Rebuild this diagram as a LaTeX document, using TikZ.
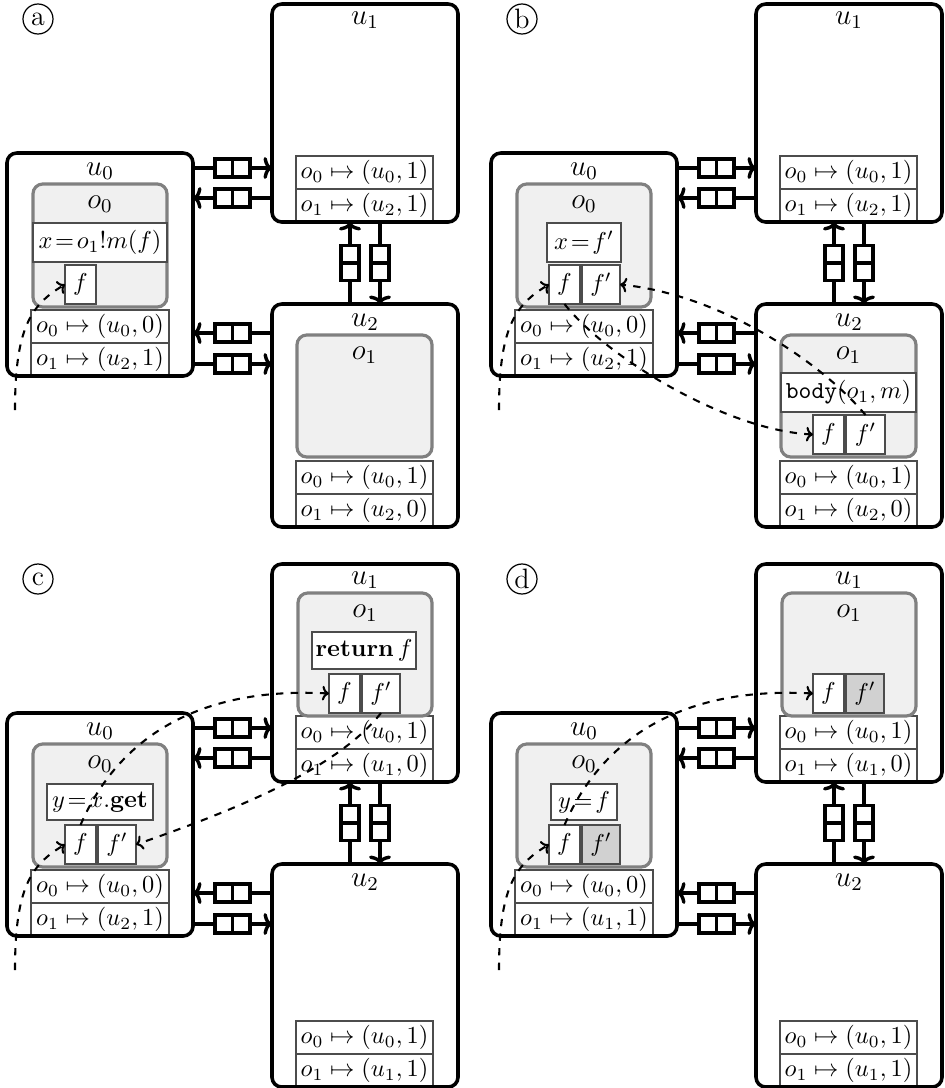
\documentclass[tikz,border=0pt]{standalone}
\usetikzlibrary{arrows.meta}
\def\px{0.41pt}
\newcommand\bx[7]{\node[#1,anchor=north west,minimum width={((#5)-(#3))*\px},minimum height={((#6)-(#4))*\px}] (#2) at (#3,#4) {#7};}
\newcommand\lbl{\fontsize{11.5}{13}\selectfont}
\newcommand\tbl[6]{%
  \bx{cell}{#1r1}{#2}{#3}{#4}{#3+33}{#5}
  \bx{cell}{#1r2}{#2}{#3+33}{#4}{#3+66}{#6}}
\tikzset{
  x=\px, y=-\px,
  every node/.style={inner sep=0pt, outer sep=0pt},
  unitfill/.style={fill=white, rounded corners=4pt},
  unitline/.style={draw, line width=1.45pt, rounded corners=4pt},
  obj/.style={draw=black!50, fill=black!6, line width=1.3pt, rounded corners=4pt},
  cell/.style={draw=black!70, fill=white, line width=0.5pt},
  gcell/.style={cell, fill=black!18},
  ttl/.style={font=\lbl},
  chan/.style={line width=1.4pt, -{To[length=3.5pt,width=9pt]}},
  qh/.style={-, draw, fill=white, line width=1.3pt, minimum width={35*\px}, minimum height={18*\px},
    path picture={\draw[-, line width=1.3pt] (path picture bounding box.north) -- (path picture bounding box.south);}},
  qv/.style={-, draw, fill=white, line width=1.3pt, minimum width={18*\px}, minimum height={35*\px},
    path picture={\draw[-, line width=1.3pt] (path picture bounding box.west) -- (path picture bounding box.east);}},
  ptr/.style={dashed, line width=0.85pt, -{To[length=2.8pt,width=6pt]}},
  tag/.style={draw, circle, line width=0.5pt, minimum size={30*\px}, font=\lbl},
}
\newcommand\units[1]{%
  \bx{unitfill}{#1u0}{7}{153}{193}{376}{}
  \bx{unitfill}{#1u1}{272}{4}{458}{222}{}
  \bx{unitfill}{#1u2}{272}{304}{458}{527}{}
  \node[ttl] (#1u0t) at (100,171) {$u_0$};
  \node[ttl] (#1u1t) at (365,20) {$u_1$};
  \node[ttl] (#1u2t) at (365,322) {$u_2$};
  \draw[chan] (#1u0.east |- 0,168) -- (#1u1.west |- 0,168) node[qh,midway]{};
  \draw[chan] (#1u1.west |- 0,198) -- (#1u0.east |- 0,198) node[qh,midway]{};
  \draw[chan] (#1u2.west |- 0,333) -- (#1u0.east |- 0,333) node[qh,midway]{};
  \draw[chan] (#1u0.east |- 0,364) -- (#1u2.west |- 0,364) node[qh,midway]{};
  \draw[chan] (#1u2.north -| 350,0) -- (#1u1.south -| 350,0) node[qv,midway]{};
  \draw[chan] (#1u1.south -| 380,0) -- (#1u2.north -| 380,0) node[qv,midway]{};
}
\newcommand\borders[1]{%
  \draw[unitline] (#1u0.north west) rectangle (#1u0.south east);
  \draw[unitline] (#1u1.north west) rectangle (#1u1.south east);
  \draw[unitline] (#1u2.north west) rectangle (#1u2.south east);
}
\begin{document}
\begin{tikzpicture}
\useasboundingbox (0,0) rectangle (944,1088);

% ---------------- panel a
\begin{scope}
\node[tag] (atag) at (38,19) {a};
\units{a}
\tbl{at0}{31}{310}{169}{$o_0\mapsto(u_0,0)$}{$o_1\mapsto(u_2,1)$}
\tbl{at1}{296}{156}{433}{$o_0\mapsto(u_0,1)$}{$o_1\mapsto(u_2,1)$}
\tbl{at2}{296}{461}{433}{$o_0\mapsto(u_0,1)$}{$o_1\mapsto(u_2,0)$}
\bx{obj}{ao0}{33}{184}{167}{307}{}
\node[ttl] (ao0t) at (100,204) {$o_0$};
\bx{cell}{am}{33}{223}{167}{262}{$x\!=\!o_1!m(f)$}
\bx{cell}{af}{65}{265}{96}{304}{$f$}
\bx{obj}{ao1}{297}{335}{432}{457}{}
\node[ttl] (ao1t) at (364.5,355) {$o_1$};
\borders{a}
\coordinate (as) at (15,410);
\draw[ptr] (as) .. controls (15,330) and (30,305) .. (af.west);
\end{scope}

% ---------------- panel b
\begin{scope}[shift={(484,0)}]
\node[tag] (btag) at (38,19) {b};
\units{b}
\tbl{bt0}{31}{310}{169}{$o_0\mapsto(u_0,0)$}{$o_1\mapsto(u_2,1)$}
\tbl{bt1}{296}{156}{433}{$o_0\mapsto(u_0,1)$}{$o_1\mapsto(u_2,1)$}
\tbl{bt2}{296}{461}{433}{$o_0\mapsto(u_0,1)$}{$o_1\mapsto(u_2,0)$}
\bx{obj}{bo0}{33}{184}{167}{307}{}
\node[ttl] (bo0t) at (100,204) {$o_0$};
\bx{cell}{bm}{63}{223}{137}{262}{$x\!=\!f'$}
\bx{cell}{bf}{65}{265}{96}{304}{$f$}
\bx{cell}{bfp}{98}{265}{136}{304}{$f'$}
\bx{obj}{bo1}{297}{335}{432}{457}{}
\node[ttl] (bo1t) at (364.5,355) {$o_1$};
\bx{cell}{bb}{297}{373}{432}{412}{$\texttt{body}(o_1,m)$}
\bx{cell}{bf1}{329}{415}{360}{454}{$f$}
\bx{cell}{bfp1}{362}{415}{401}{454}{$f'$}
\borders{b}
\coordinate (bs) at (15,410);
\draw[ptr] (bs) .. controls (15,330) and (30,305) .. (bf.west);
\draw[ptr] (bf.south) .. controls (120,355) and (240,430) .. (bf1.west);
\draw[ptr] (bfp1.north) .. controls (340,365) and (240,295) .. (bfp.east);
\end{scope}

% ---------------- panel c
\begin{scope}[shift={(0,560)}]
\node[tag] (ctag) at (38,19) {c};
\units{c}
\tbl{ct0}{31}{310}{169}{$o_0\mapsto(u_0,0)$}{$o_1\mapsto(u_2,1)$}
\tbl{ct1}{296}{156}{433}{$o_0\mapsto(u_0,1)$}{$o_1\mapsto(u_1,0)$}
\tbl{ct2}{296}{461}{433}{$o_0\mapsto(u_0,1)$}{$o_1\mapsto(u_1,1)$}
\bx{obj}{co0}{33}{184}{167}{307}{}
\node[ttl] (co0t) at (100,204) {$o_0$};
\bx{cell}{cm}{47}{224}{153}{260}{$y\!=\!x.\mathbf{get}$}
\bx{cell}{cf}{65}{265}{96}{304}{$f$}
\bx{cell}{cfp}{98}{265}{136}{304}{$f'$}
\bx{obj}{co1}{298}{33}{432}{156}{}
\node[ttl] (co1t) at (365,53) {$o_1$};
\bx{cell}{cr}{312}{72}{416}{109}{$\mathbf{return}\,f$}
\bx{cell}{cf1}{329}{114}{360}{153}{$f$}
\bx{cell}{cfp1}{362}{114}{400}{153}{$f'$}
\borders{c}
\coordinate (cs) at (15,410);
\draw[ptr] (cs) .. controls (15,330) and (30,305) .. (cf.west);
\draw[ptr] (cf.north) .. controls (115,185) and (190,126) .. (cf1.west);
\draw[ptr] (cfp1.south) .. controls (340,205) and (250,245) .. (cfp.east);
\end{scope}

% ---------------- panel d
\begin{scope}[shift={(484,560)}]
\node[tag] (dtag) at (38,19) {d};
\units{d}
\tbl{dt0}{31}{310}{169}{$o_0\mapsto(u_0,0)$}{$o_1\mapsto(u_1,1)$}
\tbl{dt1}{296}{156}{433}{$o_0\mapsto(u_0,1)$}{$o_1\mapsto(u_1,0)$}
\tbl{dt2}{296}{461}{433}{$o_0\mapsto(u_0,1)$}{$o_1\mapsto(u_1,1)$}
\bx{obj}{do0}{33}{184}{167}{307}{}
\node[ttl] (do0t) at (100,204) {$o_0$};
\bx{cell}{dm}{67}{224}{133}{260}{$y\!=\!f$}
\bx{cell}{df}{65}{265}{96}{304}{$f$}
\bx{gcell}{dfp}{98}{265}{136}{304}{$f'$}
\bx{obj}{do1}{298}{33}{432}{156}{}
\node[ttl] (do1t) at (365,53) {$o_1$};
\bx{cell}{df1}{329}{114}{360}{153}{$f$}
\bx{gcell}{dfp1}{362}{114}{400}{153}{$f'$}
\borders{d}
\coordinate (ds) at (15,410);
\draw[ptr] (ds) .. controls (15,330) and (30,305) .. (df.west);
\draw[ptr] (df.north) .. controls (115,185) and (190,126) .. (df1.west);
\end{scope}
\end{tikzpicture}
\end{document}
